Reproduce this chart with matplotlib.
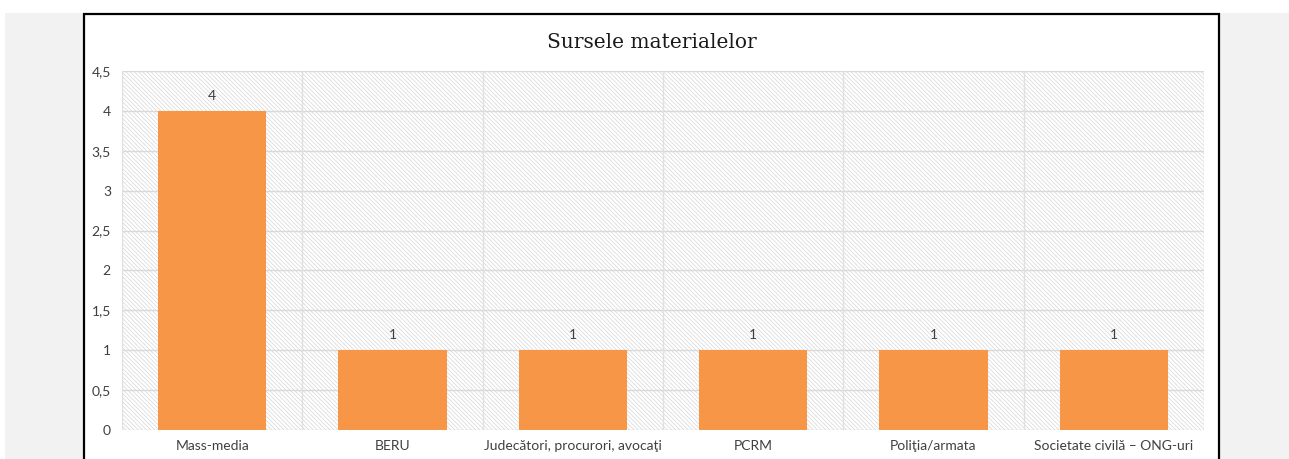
import matplotlib.pyplot as plt
from matplotlib.patches import Rectangle

categorii = ['Mass-media', 'BERU', 'Judecători, procurori, avocaţi', 'PCRM',
             'Poliţia/armata', 'Societate civilă – ONG-uri']
valori = [4, 1, 1, 1, 1, 1]
y_ticks = [0, 0.5, 1, 1.5, 2, 2.5, 3, 3.5, 4, 4.5]
y_labels = ['0', '0,5', '1', '1,5', '2', '2,5', '3', '3,5', '4', '4,5']

W, H = 1289, 459
plt.rcParams['font.family'] = ['Lato', 'DejaVu Sans']
plt.rcParams['hatch.color'] = '#d6d6d6'
plt.rcParams['hatch.linewidth'] = 0.5

fig = plt.figure(figsize=(W / 100, H / 100), dpi=100)
fig.patch.set_facecolor('white')

# gray page background and white chart frame
fig.patches.append(Rectangle((5 / W, 0), 1, 1 - 13 / H, transform=fig.transFigure,
                             facecolor='#f2f2f2', edgecolor='none', zorder=-3))
fig.patches.append(Rectangle((84 / W, -0.02), (1219 - 84) / W, 1.02 - 14 / H,
                             transform=fig.transFigure, facecolor='white',
                             edgecolor='black', linewidth=1.6, zorder=-2))

ax = fig.add_axes([122 / W, (H - 430) / H, (1204 - 122) / W, (430 - 71) / H])
ax.patch.set_alpha(0)

x = list(range(len(categorii)))
ax.set_xlim(-0.5, len(categorii) - 0.5)
ax.set_ylim(0, 4.5)

# hatched plot background
ax.add_patch(Rectangle((0, 0), 1, 1, transform=ax.transAxes, facecolor='white',
                       edgecolor='#d6d6d6', hatch='\\' * 8, linewidth=0, zorder=0))

for yv in y_ticks:
    ax.axhline(yv, color='#d9d9d9', linewidth=1, zorder=1)
for i in range(len(categorii) + 1):
    ax.axvline(i - 0.5, color='#e0e0e0', linewidth=1, zorder=1)

bars = ax.bar(x, valori, width=0.6, color='#f79646', zorder=2)
for b, v in zip(bars, valori):
    ax.text(b.get_x() + b.get_width() / 2, v + 0.11, str(v), ha='center', va='bottom',
            fontsize=10, color='#404040')

ax.set_xticks(x)
ax.set_xticklabels(categorii, fontsize=10, color='#404040')
ax.set_yticks(y_ticks)
ax.set_yticklabels(y_labels, fontsize=10, color='#404040')
ax.tick_params(axis='x', length=0, pad=7)
ax.tick_params(axis='y', length=0, pad=8)
for s in ax.spines.values():
    s.set_visible(False)

fig.text(652 / W, 1 - 42 / H, 'Sursele materialelor', ha='center', va='center',
         fontsize=14.5, family='DejaVu Serif', color='#1a1a1a')

fig.savefig('out.png', dpi=100)
